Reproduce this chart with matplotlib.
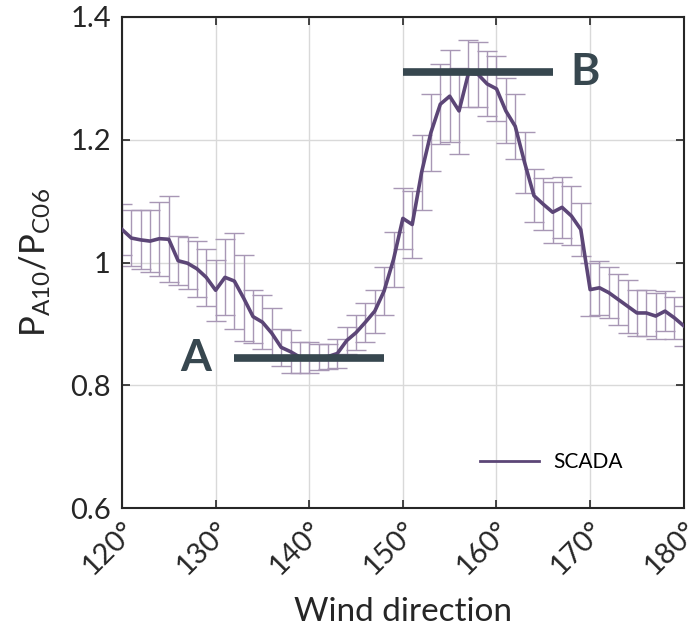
import matplotlib

matplotlib.use("Agg")
import matplotlib.pyplot as plt
import numpy as np

# power ratio A10/C06 binned by 1 deg of wind direction
direction = np.arange(120, 181)
ratio = [
    1.054, 1.040, 1.037, 1.035, 1.039, 1.038, 1.003, 0.999, 0.990, 0.976,
    0.955, 0.976, 0.970, 0.942, 0.912, 0.903, 0.885, 0.862, 0.855, 0.846,
    0.845, 0.846, 0.847, 0.852, 0.873, 0.886, 0.903, 0.921, 0.954, 1.005,
    1.072, 1.062, 1.147, 1.212, 1.258, 1.271, 1.247, 1.308, 1.307, 1.291,
    1.283, 1.247, 1.222, 1.163, 1.109, 1.095, 1.082, 1.090, 1.076, 1.054,
    0.956, 0.959, 0.951, 0.940, 0.929, 0.918, 0.918, 0.913, 0.921, 0.910,
    0.897,
]
ratio_err = [
    0.041, 0.046, 0.048, 0.050, 0.060, 0.070, 0.040, 0.042, 0.046, 0.046,
    0.050, 0.062, 0.078, 0.070, 0.043, 0.044, 0.041, 0.030, 0.035, 0.025,
    0.025, 0.021, 0.021, 0.023, 0.022, 0.028, 0.032, 0.035, 0.039, 0.045,
    0.050, 0.054, 0.061, 0.063, 0.065, 0.075, 0.070, 0.054, 0.053, 0.053,
    0.053, 0.053, 0.053, 0.050, 0.043, 0.042, 0.050, 0.050, 0.048, 0.043,
    0.043, 0.044, 0.042, 0.042, 0.043, 0.038, 0.038, 0.038, 0.033, 0.034,
    0.033,
]

# wake regimes: (label, x-range, level, label position)
regimes = [
    ("A", (132, 148), 0.845, (127.9, 0.845)),
    ("B", (150, 166), 1.31, (169.5, 1.31)),
]

x_ticks = [120, 130, 140, 150, 160, 170, 180]
y_ticks = [0.6, 0.8, 1.0, 1.2, 1.4]
y_ticklabels = ["0.6", "0.8", "1", "1.2", "1.4"]

LINE = "#5c4677"
ERR = "#a897b5"
DARK = "#37474f"
INK = "#262626"

plt.rcParams["font.family"] = ["Lato", "DejaVu Sans"]
plt.rcParams["mathtext.default"] = "regular"

fig = plt.figure(figsize=(6.97, 6.29), dpi=100)
ax = fig.add_axes([0.175, 0.192, 0.806, 0.781])

ax.errorbar(direction, ratio, yerr=ratio_err, fmt="none", ecolor=ERR, elinewidth=1.0,
            capsize=7, capthick=1.0, zorder=2)
ax.plot(direction, ratio, color=LINE, lw=2.6, label="SCADA", zorder=3)

for name, (x0, x1), level, (tx, ty) in regimes:
    ax.plot([x0, x1], [level, level], color=DARK, lw=5.5, solid_capstyle="butt", zorder=4)
    ax.text(tx, ty, name, color=DARK, fontsize=32, fontweight="bold", ha="center", va="center")

ax.set_xlim(120, 180)
ax.set_ylim(0.6, 1.4)
ax.set_xticks(x_ticks)
ax.set_xticklabels([f"{t}°" for t in x_ticks], rotation=45, ha="right", va="top",
                   rotation_mode="anchor")
ax.set_yticks(y_ticks)
ax.set_yticklabels(y_ticklabels)
ax.tick_params(direction="in", length=6, width=1.2, top=True, right=True,
               labelsize=21, colors=INK)
ax.tick_params(axis="x", pad=6)
ax.tick_params(axis="y", pad=8)
ax.grid(True, color="#d9d9d9", lw=1.0)
ax.set_axisbelow(True)
for spine in ax.spines.values():
    spine.set_linewidth(1.5)
    spine.set_color(INK)

ax.set_xlabel("Wind direction", fontsize=24, color=INK, labelpad=13)
ax.set_ylabel("P$_{A10}$/P$_{C06}$", fontsize=25, color=INK, labelpad=12)

leg = ax.legend(loc="lower right", bbox_to_anchor=(0.925, 0.035), frameon=False,
                fontsize=15, handlelength=2.8, handletextpad=0.7)
for h in leg.get_lines():
    h.set_linewidth(2.0)

fig.savefig("out.png", dpi=100)
